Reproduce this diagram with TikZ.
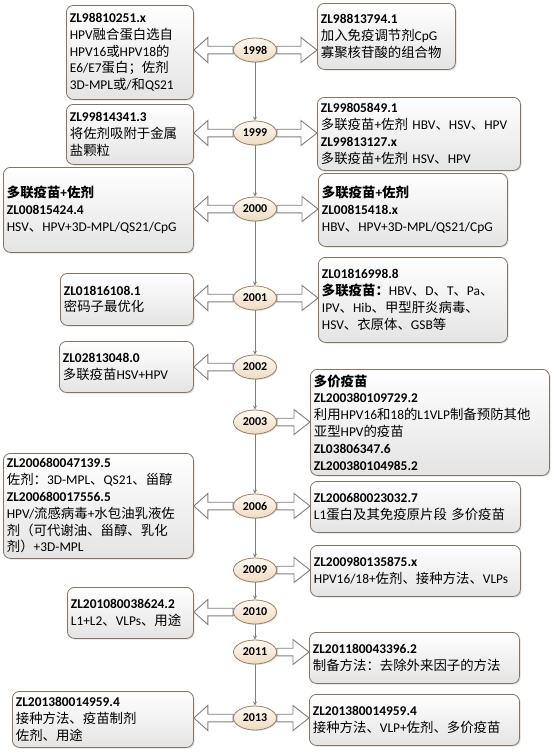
\documentclass[tikz,border=0pt]{standalone}
\usepackage{fontspec}
\setmainfont{Carlito}
\newfontfamily\cjk{Noto Sans CJK SC}
\usepackage{tikz}
\usetikzlibrary{shapes,arrows,calc,shadows}

\definecolor{boxline}{HTML}{857463}
\definecolor{boxfill}{HTML}{E4E4E4}
\definecolor{yearline}{HTML}{A08062}
\definecolor{yeartop}{HTML}{FDF9F2}
\definecolor{yearbottom}{HTML}{EDDCC2}
\definecolor{arrowline}{HTML}{7F7F7F}

% chinese text
\newcommand\hz[1]{{\cjk #1}}

% hollow arrow from year to box, to the left and to the right
\newcommand\toleft[2]{\draw[hollow] let \p1=(#1.west), \p2=(#2.east) in
  (\x1,\y1+3.8pt) -- (\x2+14pt,\y1+3.8pt) -- (\x2+14pt,\y1+12.5pt) -- (\x2,\y1)
  -- (\x2+14pt,\y1-12.5pt) -- (\x2+14pt,\y1-3.8pt) -- (\x1,\y1-3.8pt) -- cycle;}
\newcommand\toright[2]{\draw[hollow] let \p1=(#1.east), \p2=(#2.west) in
  (\x1,\y1+3.8pt) -- (\x2-16pt,\y1+3.8pt) -- (\x2-16pt,\y1+12.5pt) -- (\x2,\y1)
  -- (\x2-16pt,\y1-12.5pt) -- (\x2-16pt,\y1-3.8pt) -- (\x1,\y1-3.8pt) -- cycle;}

\tikzset{
  patent/.style={draw=boxline, line width=0.8pt, rounded corners=7pt,
    top color=white, bottom color=boxfill, anchor=north west, align=left,
    inner xsep=3.5pt, inner ysep=0pt, font=\fontsize{13.4}{16.8}\selectfont,
    drop shadow={shadow xshift=1.2pt, shadow yshift=-1.2pt, opacity=0.25}},
  year/.style={ellipse, draw=yearline, line width=0.8pt, top color=yeartop,
    bottom color=yearbottom, minimum width=43pt, minimum height=24pt,
    inner sep=0pt, font=\fontsize{12}{14}\selectfont\bfseries,
    drop shadow={shadow xshift=1pt, shadow yshift=-1pt, opacity=0.2}},
  hollow/.style={draw=arrowline, line width=0.9pt, fill=white, line join=miter},
  timeline/.style={draw=arrowline, line width=0.8pt, ->, >=stealth}
}

\begin{document}
\begin{tikzpicture}[x=1pt,y=-1pt]
\fill[white] (0,0) rectangle (554,753);
\useasboundingbox (0,0) rectangle (554,753);

% to write years
\node[year] (y1998) at (255,50) {1998};
\node[year] (y1999) at (255,133) {1999};
\node[year] (y2000) at (255,209) {2000};
\node[year] (y2001) at (255,298) {2001};
\node[year] (y2002) at (255,367) {2002};
\node[year] (y2003) at (255,422) {2003};
\node[year] (y2006) at (255,506) {2006};
\node[year] (y2009) at (255,570) {2009};
\node[year] (y2010) at (255,612) {2010};
\node[year] (y2011) at (255,652) {2011};
\node[year] (y2013) at (255,718) {2013};

% to draw vertical time line
\draw[timeline] (y1998) -- (y1999);
\draw[timeline] (y1999) -- (y2000);
\draw[timeline] (y2000) -- (y2001);
\draw[timeline] (y2001) -- (y2002);
\draw[timeline] (y2002) -- (y2003);
\draw[timeline] (y2003) -- (y2006);
\draw[timeline] (y2006) -- (y2009);
\draw[timeline] (y2009) -- (y2010);
\draw[timeline] (y2010) -- (y2011);
\draw[timeline] (y2011) -- (y2013);

% left side patents
\node[patent, text width=120pt, minimum height=94pt] (l1998) at (66,5)
  {\textbf{ZL98810251.x}\\HPV\hz{融合蛋白选自}\\HPV16\hz{或}HPV18\hz{的}\\E6/E7\hz{蛋白；佐剂}\\3D-MPL\hz{或}/\hz{和}QS21};
\node[patent, text width=120pt, minimum height=60pt] (l1999) at (66,104)
  {\textbf{ZL99814341.3}\\\hz{将佐剂吸附于金属}\\\hz{盐颗粒}};
\node[patent, text width=183pt, minimum height=85pt] (l2000) at (3,167)
  {\textbf{\hz{多联疫苗}+\hz{佐剂}}\\\textbf{ZL00815424.4}\\HSV\hz{、}HPV+3D-MPL/QS21/CpG};
\node[patent, text width=126pt, minimum height=52pt] (l2001) at (60,273)
  {\textbf{ZL01816108.1}\\\hz{密码子最优化}};
\node[patent, text width=127pt, minimum height=51pt] (l2002) at (59,341)
  {\textbf{ZL02813048.0}\\\hz{多联疫苗}HSV+HPV};
\node[patent, text width=183pt, minimum height=105pt] (l2006) at (3,453)
  {\textbf{ZL200680047139.5}\\\hz{佐剂：}3D-MPL\hz{、}QS21\hz{、甾醇}\\\textbf{ZL200680017556.5}\\HPV/\hz{流感病毒}+\hz{水包油乳液佐}\\\hz{剂（可代谢油、甾醇、乳化}\\\hz{剂）}+3D-MPL};
\node[patent, text width=119pt, minimum height=51pt] (l2010) at (67,587)
  {\textbf{ZL201080038624.2}\\L1+L2\hz{、}VLPs\hz{、用途}};
\node[patent, text width=174pt, minimum height=56pt] (l2013) at (12,691)
  {\textbf{ZL201380014959.4}\\\hz{接种方法、疫苗制剂}\\\hz{佐剂、用途}};

% right side patents
\node[patent, text width=131pt, minimum height=66pt] (r1998) at (317,3)
  {\textbf{ZL98813794.1}\\\hz{加入免疫调节剂}CpG\\\hz{寡聚核苷酸的组合物}};
\node[patent, text width=196pt, minimum height=73pt] (r1999) at (317,97)
  {\textbf{ZL99805849.1}\\\hz{多联疫苗}+\hz{佐剂} HBV\hz{、}HSV\hz{、}HPV\\\textbf{ZL99813127.x}\\\hz{多联疫苗}+\hz{佐剂} HSV\hz{、}HPV};
\node[patent, text width=182pt, minimum height=73pt] (r2000) at (318,173)
  {\textbf{\hz{多联疫苗}+\hz{佐剂}}\\\textbf{ZL00815418.x}\\HBV\hz{、}HPV+3D-MPL/QS21/CpG};
\node[patent, text width=182pt, minimum height=85pt] (r2001) at (318,257)
  {\textbf{ZL01816998.8}\\\textbf{\hz{多联疫苗：}}HBV\hz{、}D\hz{、}T\hz{、}Pa\hz{、}\\IPV\hz{、}Hib\hz{、甲型肝炎病毒、}\\HSV\hz{、衣原体、}GSB\hz{等}};
\node[patent, text width=232pt, minimum height=106pt] (r2003) at (310,369)
  {\textbf{\hz{多价疫苗}}\\\textbf{ZL200380109729.2}\\\hz{利用}HPV16\hz{和}18\hz{的}L1VLP\hz{制备预防其他}\\\hz{亚型}HPV\hz{的疫苗}\\\textbf{ZL03806347.6}\\\textbf{ZL200380104985.2}};
\node[patent, text width=203pt, minimum height=51pt] (r2006) at (310,481)
  {\textbf{ZL200680023032.7}\\L1\hz{蛋白及其免疫原片段 多价疫苗}};
\node[patent, text width=203pt, minimum height=51pt] (r2009) at (310,545)
  {\textbf{ZL200980135875.x}\\HPV16/18+\hz{佐剂、接种方法、}VLPs};
\node[patent, text width=203pt, minimum height=51pt] (r2011) at (309,632)
  {\textbf{ZL201180043396.2}\\\hz{制备方法：去除外来因子的方法}};
\node[patent, text width=203pt, minimum height=51pt] (r2013) at (309,694)
  {\textbf{ZL201380014959.4}\\\hz{接种方法、}VLP+\hz{佐剂、多价疫苗}};

% to draw hollow arrows
\toleft{y1998}{l1998}
\toright{y1998}{r1998}
\toleft{y1999}{l1999}
\toright{y1999}{r1999}
\toleft{y2000}{l2000}
\toright{y2000}{r2000}
\toleft{y2001}{l2001}
\toright{y2001}{r2001}
\toleft{y2002}{l2002}
\toright{y2003}{r2003}
\toleft{y2006}{l2006}
\toright{y2006}{r2006}
\toright{y2009}{r2009}
\toleft{y2010}{l2010}
\toright{y2011}{r2011}
\toleft{y2013}{l2013}
\toright{y2013}{r2013}
\end{tikzpicture}
\end{document}
